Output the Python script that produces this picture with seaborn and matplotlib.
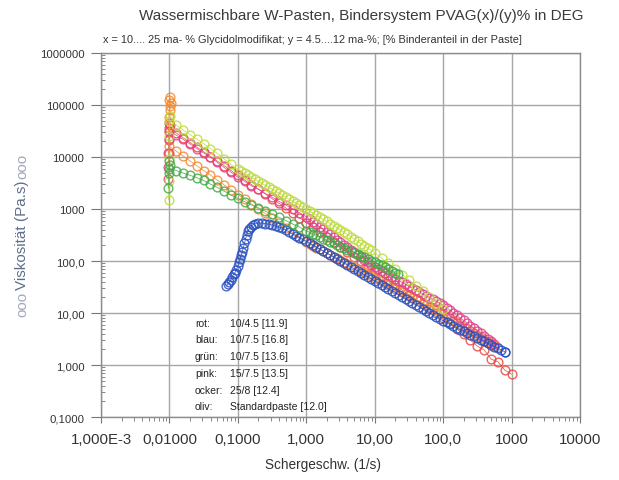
import matplotlib
matplotlib.use("Agg")
import matplotlib.pyplot as plt
import seaborn as sns
import pandas as pd
from matplotlib.ticker import FixedLocator, FixedFormatter, LogLocator, NullFormatter

# ---------------- data ----------------
# shear-rate steps of the rheometer programme
grid_low = [0.0126, 0.0158, 0.0200, 0.0251, 0.0316, 0.0398, 0.0501, 0.0631, 0.0794, 0.100,
            0.126, 0.158, 0.200, 0.251, 0.316, 0.398, 0.501, 0.631, 0.794]
grid_mid_fine = [0.112, 0.126, 0.141, 0.158, 0.178, 0.200, 0.224, 0.251, 0.282, 0.316,
                 0.355, 0.398, 0.447, 0.501, 0.562, 0.631, 0.708, 0.794, 0.891]
grid_fine = [1.00, 1.12, 1.26, 1.41, 1.58, 1.78, 2.00, 2.24, 2.51, 2.82,
             3.16, 3.55, 3.98, 4.47, 5.01, 5.62, 6.31, 7.08, 7.94, 8.91,
             10.0, 11.2, 12.6, 14.1, 15.8, 17.8, 20.0, 22.4, 25.1, 28.2,
             31.6, 35.5, 39.8, 44.7, 50.1, 56.2, 63.1, 70.8, 79.4, 89.1,
             100, 112, 126, 141, 158, 178, 200, 224, 251, 282,
             316, 355, 398, 447, 501, 562, 631, 708, 794]
grid_decade = [1.00, 1.26, 1.58, 2.00, 2.51, 3.16, 3.98, 5.01, 6.31, 7.94,
               10.0, 12.6, 15.8, 20.0, 25.1, 31.6, 39.8, 50.1, 63.1, 79.4,
               100, 126, 158, 200, 251, 316, 398, 501, 631, 794, 1000]

# rot 10/4.5
rot_x = [0.0096, 0.0098, 0.0099, 0.0101, 0.0100] + grid_low + grid_decade
rot_y = [12000, 21000, 46000, 42000, 35500,
         29000, 23500, 19000, 15500, 12600, 10200, 8300, 6800, 5500, 4450,
         3600, 2950, 2400, 1950, 1580, 1290, 1050, 830, 675,
         550, 445, 355, 290, 230, 186, 151, 120, 98, 78,
         63, 51, 42, 34, 27.5, 22.4, 18.2, 14.8, 12, 9.8,
         7.9, 6.3, 4.9, 3.9, 3.0, 2.3, 1.95, 1.3, 1.15, 0.8, 0.66]

# blau 10/7.5
blau_x = [0.068, 0.071, 0.075, 0.079, 0.083, 0.087, 0.091, 0.095, 0.100, 0.104,
          0.108, 0.112, 0.116, 0.120, 0.125, 0.130, 0.135, 0.140,
          0.147, 0.155, 0.165, 0.178, 0.200, 0.224, 0.251, 0.282, 0.316, 0.355,
          0.398, 0.447, 0.501, 0.562, 0.631, 0.708, 0.794, 0.891] + grid_fine + [810]
blau_y = [33, 36, 40, 44, 50, 57, 60, 68, 80, 95,
          110, 130, 150, 180, 220, 270, 320, 370,
          420, 460, 500, 525, 540, 535, 525, 510, 495, 475,
          455, 425, 395, 360, 330, 305, 280, 260,
          240, 220, 201, 185, 169, 155, 142, 130, 119, 109,
          100, 92, 84, 77, 70.5, 64.6, 59, 54, 49.7, 45.5,
          41.7, 38, 34.9, 32, 29.2, 26.8, 24.5, 22.4, 20.5, 18.8,
          17.2, 15.7, 14.4, 13.2, 12.1, 11, 10.1, 9.2, 8.5, 7.7,
          7.1, 6.6, 6.1, 5.6, 5.2, 4.8, 4.5, 4.2, 3.85, 3.6,
          3.3, 3.07, 2.84, 2.64, 2.44, 2.26, 2.1, 1.95, 1.8,
          1.75]

# grün 10/7.5
gruen_x = [0.0096, 0.0098, 0.0100, 0.0101, 0.0100] + grid_low + grid_fine[:27] + [21.9]
gruen_y = [2500, 5000, 8500, 7000, 6000,
           5500, 4900, 4450, 4000, 3550, 3000, 2600, 2200, 1850, 1600,
           1380, 1200, 1050, 910, 790, 690, 600, 515, 450,
           380, 355, 330, 310, 290, 270, 250, 235, 220, 205,
           190, 178, 166, 155, 145, 135, 126, 118, 110, 102,
           95, 89, 82, 76, 70, 65, 59, 56]

# pink 15/7.5
pink_x = [0.0095, 0.0096, 0.0098, 0.0099, 0.0100] + grid_low + grid_fine[:56]
pink_y = [3800, 6500, 12000, 22000, 31600,
          26300, 21900, 17800, 14500, 12000, 9800, 7900, 6300, 5100, 4100,
          3400, 2800, 2400, 2000, 1700, 1400, 1200, 1000, 850,
          708, 634, 566, 506, 453, 405, 362, 324, 290, 259,
          232, 207, 185, 166, 148, 132, 119, 106, 95, 85,
          76, 70, 64, 59, 54, 50, 46, 42, 38.7, 35.6,
          32.7, 30, 27.7, 25.4, 23.4, 21.5, 19.8, 18.2, 16.7, 15.4,
          14.1, 12.6, 11.2, 10, 9, 8, 7.2, 6.4, 5.7, 5.1,
          4.5, 4.06, 3.6, 3.2, 2.9, 2.57]

# ocker 25/8
ocker_x = [0.0097, 0.0099, 0.0101, 0.0100, 0.0102, 0.0104, 0.0101, 0.0100] + grid_low + grid_fine[:56] + [620]
ocker_y = [30000, 60000, 95000, 125000, 140000, 110000, 80000, 16000,
           12900, 10500, 8400, 6800, 5500, 4500, 3600, 2900, 2350, 1900,
           1550, 1250, 1000, 820, 660, 540, 435, 350, 285,
           229, 212, 196, 181, 167, 155, 143, 132, 122, 113,
           105, 97, 89.5, 83, 76.6, 70.8, 65.5, 60.5, 56, 51.8,
           47.9, 44.2, 40.7, 37.6, 34.7, 32, 29.5, 27.2, 25.1, 23.2,
           21.4, 19.7, 18.2, 16.8, 15.5, 14.3, 13.2, 12.2, 11.2, 10.4,
           9.5, 8.7, 7.9, 7.2, 6.6, 6.0, 5.5, 5.0, 4.5, 4.1,
           3.8, 3.4, 3.1, 2.8, 2.6, 2.36,
           2.2]

# oliv Standardpaste
oliv_x = ([0.0097, 0.0098, 0.0098, 0.0099, 0.0101, 0.0100] + grid_low[:10]
          + grid_mid_fine + grid_fine[:21] + grid_decade[11:21])
oliv_y = [1500, 3500, 9000, 25000, 62000, 50000,
          41000, 33000, 27000, 22000, 18000, 14500, 11700, 9100, 7200, 5750,
          5270, 4830, 4430, 4060, 3720, 3400, 3120, 2860, 2620, 2400,
          2200, 2010, 1850, 1690, 1550, 1420, 1300, 1190, 1090,
          1000, 912, 832, 759, 692, 631, 575, 525, 479, 437,
          398, 360, 325, 294, 265, 240, 217, 196, 177, 160, 145,
          114, 90, 71, 55, 43, 33, 26, 20, 15.5, 12]

x_ticks = [1e-3, 1e-2, 1e-1, 1e0, 1e1, 1e2, 1e3, 1e4]
x_tick_labels = ["1,000E-3", "0,01000", "0,1000", "1,000", "10,00", "100,0", "1000", "10000"]
y_ticks = [1e-1, 1e0, 1e1, 1e2, 1e3, 1e4, 1e5, 1e6]
y_tick_labels = ["0,1000", "1,000", "10,00", "100,0", "1000", "10000", "100000", "1000000"]

legend_names = ["rot:", "blau:", "grün:", "pink:", "ocker:", "oliv:"]
legend_desc = ["10/4.5 [11.9]", "10/7.5 [16.8]", "10/7.5 [13.6]", "15/7.5 [13.5]",
               "25/8 [12.4]", "Standardpaste [12.0]"]

title = "Wassermischbare W-Pasten, Bindersystem PVAG(x)/(y)% in DEG"
subtitle = "x = 10.... 25 ma- % Glycidolmodifikat; y = 4.5....12 ma-%; [% Binderanteil in der Paste]"

# ---------------- style ----------------
sns.set_theme(style="white")
plt.rcParams['font.family'] = ['Liberation Sans', 'DejaVu Sans']

W, H = 619, 481
fig = plt.figure(figsize=(W / 100, H / 100), dpi=100)
ax = fig.add_axes([101 / W, 1 - 418 / H, (580 - 101) / W, (418 - 54) / H])

series = [
    (rot_x, rot_y, "#e8483e"),
    (ocker_x, ocker_y, "#f28a32"),
    (pink_x, pink_y, "#e0428e"),
    (oliv_x, oliv_y, "#bcdc3c"),
    (blau_x, blau_y, "#2a50c0"),
    (gruen_x, gruen_y, "#44aa48"),
]
for xs, ys, col in series:
    assert len(xs) == len(ys), (len(xs), len(ys))
    df = pd.DataFrame({"x": xs, "y": ys})
    sns.lineplot(data=df, x="x", y="y", ax=ax, sort=False, estimator=None,
                 color=col, linewidth=0.6, alpha=0.85,
                 marker="o", markersize=6.3, markerfacecolor="none",
                 markeredgecolor=col, markeredgewidth=1.0, legend=False)

ax.set_xscale("log")
ax.set_yscale("log")
ax.set_xlim(1e-3, 1e4)
ax.set_ylim(1e-1, 1e6)

ax.xaxis.set_major_locator(FixedLocator(x_ticks))
ax.xaxis.set_major_formatter(FixedFormatter(x_tick_labels))
ax.yaxis.set_major_locator(FixedLocator(y_ticks))
ax.yaxis.set_major_formatter(FixedFormatter(y_tick_labels))
ax.xaxis.set_minor_locator(LogLocator(base=10, subs=range(2, 10), numticks=20))
ax.yaxis.set_minor_locator(LogLocator(base=10, subs=range(2, 10), numticks=20))
ax.xaxis.set_minor_formatter(NullFormatter())
ax.yaxis.set_minor_formatter(NullFormatter())

ax.tick_params(axis="x", which="major", direction="out", length=4, width=0.8,
               color="#777777", labelsize=10.8, labelcolor="#333333", pad=6.5, bottom=True)
ax.tick_params(axis="x", which="minor", direction="out", length=3, width=0.7,
               color="#888888", bottom=True)
ax.tick_params(axis="y", which="major", direction="out", length=7, width=0.8,
               color="#777777", labelsize=8.2, labelcolor="#333333", pad=5, left=True)
ax.tick_params(axis="y", which="minor", direction="in", length=3, width=0.7,
               color="#888888", left=True)

ax.grid(True, which="major", color="#a6a6a6", linewidth=1.0)
ax.set_axisbelow(True)
for s in ax.spines.values():
    s.set_color("#8c8c8c")
    s.set_linewidth(1.0)

ax.set_xlabel("")
ax.set_ylabel("")

# titles and labels
fig.text(361.5 / W, 1 - 16 / H, title, ha="center", va="center", fontsize=11, color="#3a3a3a")
fig.text(103 / W, 1 - 40 / H, subtitle, ha="left", va="center", fontsize=7.9, color="#333333")
fig.text(323 / W, 1 - 465 / H, "Schergeschw. (1/s)", ha="center", va="center",
         fontsize=9.8, color="#333333")
fig.text(22 / W, 1 - 235 / H, "Viskosität (Pa.s)", ha="center", va="center", rotation=90,
         fontsize=11, color="#5f6d8c")
fig.text(22 / W, 1 - 166 / H, "ooo", ha="center", va="center", rotation=90,
         fontsize=11, color="#a0a8bc")
fig.text(22 / W, 1 - 304 / H, "ooo", ha="center", va="center", rotation=90,
         fontsize=11, color="#a0a8bc")

rows_y = [324, 340, 357, 374, 391, 407]
for name, desc, py in zip(legend_names, legend_desc, rows_y):
    fig.text(195 / W, 1 - py / H, name, ha="left", va="center", fontsize=7.5, color="#222222")
    fig.text(230 / W, 1 - py / H, desc, ha="left", va="center", fontsize=7.5, color="#222222")

fig.savefig("out.png", dpi=100)
